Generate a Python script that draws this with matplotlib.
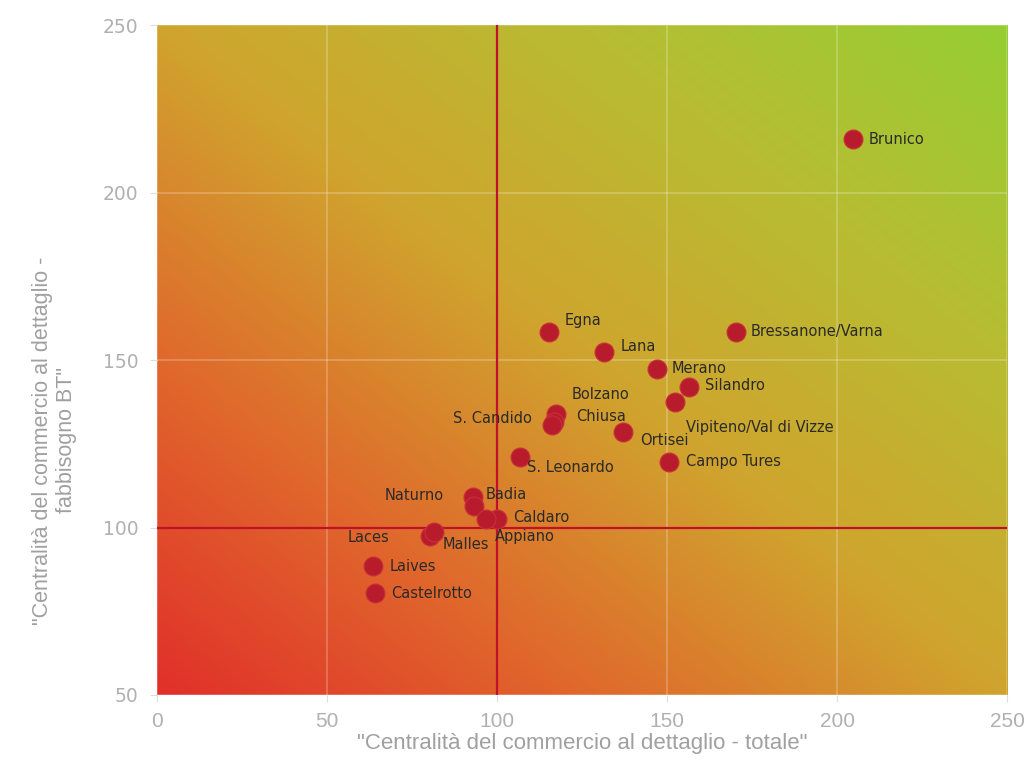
import numpy as np
import matplotlib
matplotlib.use("Agg")
import matplotlib.pyplot as plt
from matplotlib.colors import LinearSegmentedColormap

# retail centrality per municipality: total vs. basic needs (BT)
comuni = ["Brunico", "Bressanone/Varna", "Egna", "Lana", "Merano", "Silandro",
          "Vipiteno/Val di Vizze", "Bolzano", "Chiusa", "S. Candido", "Ortisei",
          "Campo Tures", "S. Leonardo", "Naturno", "Badia", "Caldaro", "Appiano",
          "Laces", "Malles", "Laives", "Castelrotto"]
totale = [204.7, 170.3, 115.3, 131.5, 147.0, 156.5,
          152.4, 117.4, 116.8, 116.3, 137.0,
          150.6, 106.8, 93.0, 93.2, 100.0, 96.8,
          80.3, 81.6, 63.5, 64.1]
fabbisogno_bt = [216.0, 158.4, 158.4, 152.4, 147.3, 142.0,
                 137.5, 133.9, 131.5, 130.6, 128.5,
                 119.6, 121.0, 109.1, 106.3, 102.5, 102.5,
                 97.6, 98.6, 88.5, 80.4]

# label offsets in pixels (dx, dy) and horizontal alignment
offsets = {
    "Brunico": (15, 0, "left"), "Bressanone/Varna": (15, 0, "left"),
    "Egna": (16, 11, "left"), "Lana": (17, 6, "left"), "Merano": (15, 1, "left"),
    "Silandro": (16, 1, "left"), "Vipiteno/Val di Vizze": (11, -26, "left"),
    "Bolzano": (15, 20, "left"), "Chiusa": (22, 6, "left"),
    "S. Candido": (-21, 7, "right"), "Ortisei": (17, -8, "left"),
    "Campo Tures": (17, 0, "left"), "S. Leonardo": (7, -10, "left"),
    "Naturno": (-29, 2, "right"), "Badia": (12, 12, "left"),
    "Caldaro": (16, 2, "left"), "Appiano": (9, -17, "left"),
    "Laces": (-41, -2, "right"), "Malles": (8, -12, "left"),
    "Laives": (17, 0, "left"), "Castelrotto": (16, 0, "left"),
}

fig = plt.figure(figsize=(10.31, 7.67), dpi=100)
ax = fig.add_axes([0.152, 0.094, 0.825, 0.873])

# diagonal red -> gold -> green background
cmap = LinearSegmentedColormap.from_list(
    "bg", [(0.0, "#e0302a"), (0.25, "#e0682c"), (0.5, "#d0a42e"),
           (0.75, "#b8bc32"), (1.0, "#96ce34")])
gx, gy = np.meshgrid(np.linspace(0, 1, 300), np.linspace(0, 1, 300))
ax.imshow((gx + gy) / 2, cmap=cmap, extent=[0, 250, 50, 250], origin="lower",
          aspect="auto", zorder=0, vmin=0, vmax=1)

ax.set_xlim(0, 250)
ax.set_ylim(50, 250)
ax.set_xticks([0, 50, 100, 150, 200, 250])
ax.set_yticks([50, 100, 150, 200, 250])
ax.grid(True, color="white", alpha=0.25, linewidth=1.2, zorder=1)

ax.axvline(100, color="#c0102a", linewidth=1.6, zorder=2)
ax.axhline(100, color="#c0102a", linewidth=1.6, zorder=2)

ax.scatter(totale, fabbisogno_bt, s=185, color="#b81c2c", edgecolors="#c8303a",
           linewidths=0.8, zorder=3)

for nome, x, y in zip(comuni, totale, fabbisogno_bt):
    dx, dy, ha = offsets[nome]
    ax.annotate(nome, (x, y), xytext=(dx, dy), textcoords="offset pixels",
                ha=ha, va="center", fontsize=10.5, color="#2a2a2a", zorder=4)

for s in ax.spines.values():
    s.set_visible(False)
ax.tick_params(axis="both", length=5, color="#dddddd")
ax.tick_params(axis="x", pad=7)
ax.tick_params(axis="y", pad=8)
narrow = ["Liberation Sans", "DejaVu Sans"]
for lab in ax.get_xticklabels():
    lab.set_fontfamily(narrow)
    lab.set_fontsize(15)
    lab.set_color("#b0b0b0")
for lab in ax.get_yticklabels():
    lab.set_fontsize(13.5)
    lab.set_color("#b0b0b0")

ax.set_xlabel('"Centralità del commercio al dettaglio - totale"', family=narrow,
              fontsize=16, color="#a0a0a0", labelpad=2)
ax.set_ylabel('"Centralità del commercio al dettaglio -\nfabbisogno BT"', family=narrow,
              fontsize=15.5, color="#a0a0a0", linespacing=1.2)
ax.yaxis.set_label_coords(-0.094, 0.38)

fig.savefig("out.png", dpi=100)
